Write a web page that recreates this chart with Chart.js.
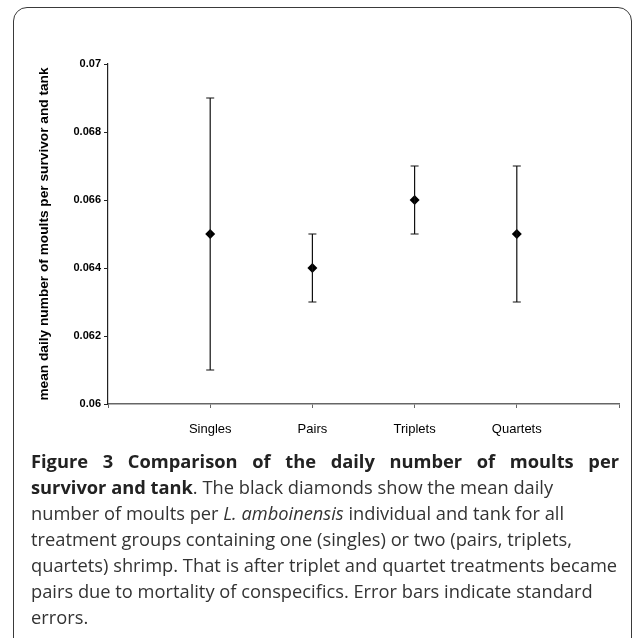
<!DOCTYPE html>
<html>
<head>
<meta charset="utf-8">
<script src="https://cdn.jsdelivr.net/npm/chart.js@4.4.0/dist/chart.umd.min.js"></script>
<style>
  html, body { margin: 0; padding: 0; background: #fff; }
  body { width: 633px; height: 638px; position: relative; overflow: hidden; }
  #frame {
    position: absolute; left: 13px; top: 7px; width: 619px; height: 650px;
    border: 1.5px solid #3a3a3a; border-radius: 14px; box-sizing: border-box;
  }
  #wrap { position: absolute; left: 0; top: 0; width: 633px; height: 450px; }
  #caption {
    position: absolute; left: 31px; top: 448px; width: 588px;
    font-family: "Open Sans", sans-serif; font-size: 18.3px; line-height: 26px;
    color: #333; white-space: nowrap;
  }
  #caption .first { font-weight: bold; text-align: justify; text-align-last: justify; color: #222; }
  #caption b { color: #222; }
</style>
</head>
<body>
<div id="frame"></div>
<div id="wrap"><canvas id="chart"></canvas></div>
<div id="caption">
  <div class="first">Figure 3 Comparison of the daily number of moults per</div>
  <div><b>survivor and tank</b>. The black diamonds show the mean daily<br>
  number of moults per <i>L. amboinensis</i> individual and tank for all<br>
  treatment groups containing one (singles) or two (pairs, triplets,<br>
  quartets) shrimp. That is after triplet and quartet treatments became<br>
  pairs due to mortality of conspecifics. Error bars indicate standard<br>
  errors.</div>
</div>
<script>
const groups = ["Singles", "Pairs", "Triplets", "Quartets"];
const means = [0.065, 0.064, 0.066, 0.065];
const lower = [0.061, 0.063, 0.065, 0.063];
const upper = [0.069, 0.065, 0.067, 0.067];
const yTicks = [0.06, 0.062, 0.064, 0.066, 0.068, 0.07];

// error bars drawn through the chart's own scales
const errorBars = {
  id: "errorBars",
  afterDatasetsDraw(chart) {
    const ctx = chart.ctx;
    const xs = chart.scales.x, ys = chart.scales.y;
    ctx.save();
    ctx.strokeStyle = "#111";
    ctx.lineWidth = 1.2;
    groups.forEach((g, i) => {
      const x = xs.getPixelForValue(i + 1);
      const y1 = ys.getPixelForValue(lower[i]);
      const y2 = ys.getPixelForValue(upper[i]);
      ctx.beginPath();
      ctx.moveTo(x, y1); ctx.lineTo(x, y2);
      ctx.moveTo(x - 4, y1); ctx.lineTo(x + 4, y1);
      ctx.moveTo(x - 4, y2); ctx.lineTo(x + 4, y2);
      ctx.stroke();
    });
    ctx.restore();
  },
};

new Chart(document.getElementById("chart"), {
  type: "scatter",
  data: {
    datasets: [
      {
        label: "mean",
        data: means.map((m, i) => ({ x: i + 1, y: m })),
        pointStyle: "rectRot",
        radius: 5,
        backgroundColor: "#000",
        borderColor: "#000",
        borderWidth: 0,
      },
    ],
  },
  options: {
    responsive: true,
    maintainAspectRatio: false,
    animation: false,
    layout: { padding: { left: 34, right: 3, top: 64, bottom: 0 } },
    plugins: { legend: { display: false }, tooltip: { enabled: false } },
    scales: {
      x: {
        type: "linear",
        min: 0,
        max: 5,
        afterBuildTicks: (s) => { s.ticks = [0, 1, 2, 3, 4, 5].map((v) => ({ value: v })); },
        afterFit: (s) => { s.height = 46; },
        grid: { drawOnChartArea: false, color: "#666", tickLength: 4 },
        border: { color: "#666", width: 1.5 },
        ticks: {
          padding: 14,
          color: "#000",
          font: { family: "Liberation Sans, Arial", size: 13 },
          callback: (v) => groups[v - 1] || "",
        },
      },
      y: {
        min: 0.06,
        max: 0.07,
        afterBuildTicks: (s) => { s.ticks = yTicks.map((v) => ({ value: v })); },
        afterFit: (s) => { s.width = 74; },
        grid: { drawOnChartArea: false, color: "#222", tickLength: 4 },
        border: { color: "#222", width: 1.2 },
        ticks: {
          padding: 3,
          color: "#000",
          font: { family: "Liberation Sans, Arial", size: 11, weight: "bold" },
          callback: (v) => String(+v.toFixed(3)),
        },
        title: {
          display: true,
          text: "mean daily number of moults per survivor and tank",
          color: "#000",
          padding: { top: 2, bottom: 4 },
          font: { family: "Liberation Sans, Arial", size: 13.7, weight: "bold" },
        },
      },
    },
  },
  plugins: [errorBars],
});
</script>
</body>
</html>
